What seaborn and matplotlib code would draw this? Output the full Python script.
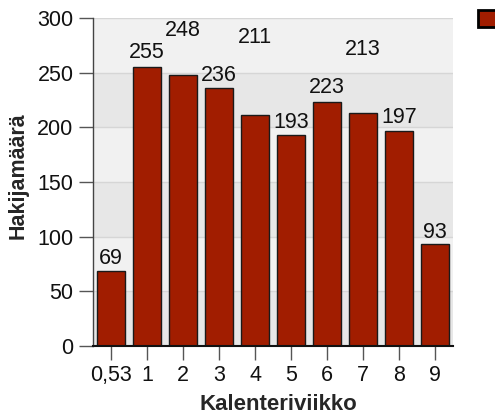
import matplotlib
matplotlib.use("Agg")
import matplotlib.pyplot as plt
from matplotlib.patches import Patch
import seaborn as sns
import pandas as pd

# Data
weeks = ["0,53", "1", "2", "3", "4", "5", "6", "7", "8", "9"]
counts = [69, 255, 248, 236, 211, 193, 223, 213, 197, 93]
label_y = [80, 268, 289, 247, 282, 204, 236, 271, 209, 104]
y_ticks = [0, 50, 100, 150, 200, 250, 300]

sns.set_theme(style="white")
plt.rcParams["font.family"] = ["Liberation Sans", "DejaVu Sans"]

bar_color = "#A11D00"
df = pd.DataFrame({"week": weeks, "count": counts})

fig = plt.figure(figsize=(4.95, 4.17), dpi=100)
ax = fig.add_axes([93 / 495, 1 - 346 / 417, 360 / 495, 328 / 417])

# background bands
for i in range(len(y_ticks) - 1):
    c = "#e7e7e7" if i % 2 == 0 else "#f1f1f1"
    ax.axhspan(y_ticks[i], y_ticks[i + 1], color=c, zorder=0, lw=0)
for t in y_ticks[1:]:
    ax.axhline(t, color="#d6d6d6", lw=1, zorder=0.5)

sns.barplot(data=df, x="week", y="count", order=weeks, color=bar_color,
            saturation=1, width=0.8, edgecolor="#1a1a1a", linewidth=1,
            ax=ax, zorder=2)

for i, (v, ly) in enumerate(zip(counts, label_y)):
    ax.text(i, ly, str(v), ha="center", va="center", fontsize=15.5,
            color="#111111", zorder=3)

ax.set_xlim(-0.5, len(weeks) - 0.5)
ax.set_ylim(0, 300)
ax.set_yticks(y_ticks)
ax.tick_params(axis="both", which="major", labelsize=15.5, length=10,
               width=1, color="#555555", labelcolor="#111111", direction="out",
               left=True, bottom=True, pad=4)
for s in ["top", "right"]:
    ax.spines[s].set_visible(False)
ax.spines["left"].set_color("#444444")
ax.spines["bottom"].set_color("#111111")
ax.spines["left"].set_linewidth(1)
ax.spines["bottom"].set_linewidth(1.5)

ax.set_xlabel("Kalenteriviikko", fontsize=16, fontweight="bold")
ax.set_ylabel("Hakijamäärä", fontsize=15.5, fontweight="bold")
ax.xaxis.set_label_coords(0.514, -0.145)
ax.yaxis.set_label_coords(-0.178, 0.52)

fig.legend(handles=[Patch(facecolor=bar_color, edgecolor="black", linewidth=2)],
           labels=[""], loc="upper left", bbox_to_anchor=(478 / 495, 1 - 10 / 417),
           frameon=False, borderpad=0, borderaxespad=0, handlelength=1.1,
           handleheight=1.0, fontsize=14, handletextpad=0)

fig.savefig("out.png", dpi=100)
